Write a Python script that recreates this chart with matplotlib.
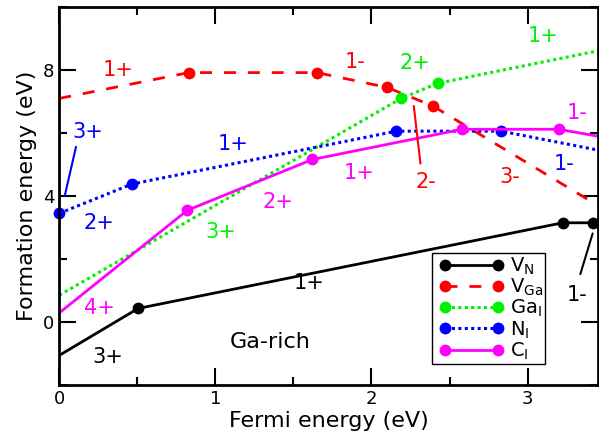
import matplotlib
matplotlib.use("Agg")
import matplotlib.pyplot as plt
from matplotlib.lines import Line2D
from matplotlib.legend_handler import HandlerLine2D
from matplotlib.ticker import MultipleLocator

# transition levels (Fermi energy, formation energy), ends at 0 and gap edge
vn_x = [0.0, 0.505, 3.225, 3.417, 3.45]
vn_y = [-1.06, 0.43, 3.15, 3.15, 3.12]
vga_x = [0.0, 0.830, 1.651, 2.099, 2.393, 3.45]
vga_y = [7.10, 7.92, 7.92, 7.45, 6.86, 3.70]
gai_x = [0.0, 2.19, 2.425, 3.45]
gai_y = [0.85, 7.10, 7.58, 8.61]
ni_x = [0.0, 0.465, 2.159, 2.83, 3.45]
ni_y = [3.45, 4.38, 6.06, 6.06, 5.46]
ci_x = [0.0, 0.821, 1.621, 2.581, 3.20, 3.45]
ci_y = [0.29, 3.55, 5.16, 6.12, 6.12, 5.90]

green = '#00f000'

fig = plt.figure(figsize=(5.99, 4.43), dpi=100)
ax = fig.add_axes([0.099, 0.131, 0.899, 0.853])

ax.plot(vn_x, vn_y, '-', color='black', lw=2, marker='o', ms=7.5,
        markevery=[1, 2, 3], label=r'$\mathregular{V_N}$')
ax.plot(vga_x, vga_y, '--', color='red', lw=2, dashes=(4.3, 4.3), marker='o', ms=7.5,
        markevery=[1, 2, 3, 4], label=r'$\mathregular{V_{Ga}}$')
ax.plot(gai_x, gai_y, ':', color=green, lw=2.2, dashes=(1, 1.1), marker='o', ms=7.5,
        markevery=[1, 2], label=r'$\mathregular{Ga_I}$')
ax.plot(ni_x, ni_y, ':', color='blue', lw=2.2, dashes=(1, 1.1), marker='o', ms=7.5,
        markevery=[0, 1, 2, 3], label=r'$\mathregular{N_I}$', clip_on=False)
ax.plot(ci_x, ci_y, '-', color='magenta', lw=2, marker='o', ms=7.5,
        markevery=[1, 2, 3, 4], label=r'$\mathregular{C_I}$')

fs = 15
# charge state labels
ax.text(0.31, -1.11, '3+', color='black', fontsize=fs, ha='center', va='center')
ax.text(1.60, 1.23, '1+', color='black', fontsize=fs, ha='center', va='center')
ax.text(3.315, 0.85, '1-', color='black', fontsize=fs, ha='center', va='center')
ax.text(0.378, 8.0, '1+', color='red', fontsize=fs, ha='center', va='center')
ax.text(1.892, 8.26, '1-', color='red', fontsize=fs, ha='center', va='center')
ax.text(2.346, 4.45, '2-', color='red', fontsize=fs, ha='center', va='center')
ax.text(2.883, 4.61, '3-', color='red', fontsize=fs, ha='center', va='center')
ax.text(1.033, 2.86, '3+', color=green, fontsize=fs, ha='center', va='center')
ax.text(2.276, 8.23, '2+', color=green, fontsize=fs, ha='center', va='center')
ax.text(3.101, 9.08, '1+', color=green, fontsize=fs, ha='center', va='center')
ax.text(0.18, 6.04, '3+', color='blue', fontsize=fs, ha='center', va='center')
ax.text(0.254, 3.15, '2+', color='blue', fontsize=fs, ha='center', va='center')
ax.text(1.113, 5.64, '1+', color='blue', fontsize=fs, ha='center', va='center')
ax.text(3.236, 5.03, '1-', color='blue', fontsize=fs, ha='center', va='center')
ax.text(0.26, 0.43, '4+', color='magenta', fontsize=fs, ha='center', va='center')
ax.text(1.399, 3.80, '2+', color='magenta', fontsize=fs, ha='center', va='center')
ax.text(1.924, 4.72, '1+', color='magenta', fontsize=fs, ha='center', va='center')
ax.text(3.32, 6.64, '1-', color='magenta', fontsize=fs, ha='center', va='center')
ax.text(1.348, -0.64, 'Ga-rich', color='black', fontsize=16, ha='center', va='center')

# leader lines
ax.annotate('', xy=(0.036, 4.03), xytext=(0.107, 5.56),
            arrowprops=dict(arrowstyle='-', color='blue', lw=1.5, shrinkA=0, shrinkB=0))
ax.annotate('', xy=(2.271, 6.86), xytext=(2.314, 5.03),
            arrowprops=dict(arrowstyle='-', color='red', lw=1.5, shrinkA=0, shrinkB=0))
ax.annotate('', xy=(3.417, 2.81), xytext=(3.338, 1.52),
            arrowprops=dict(arrowstyle='-', color='black', lw=1.5, shrinkA=0, shrinkB=0))

ax.set_xlim(0, 3.45)
ax.set_ylim(-2, 10)
ax.xaxis.set_major_locator(MultipleLocator(1))
ax.xaxis.set_minor_locator(MultipleLocator(0.5))
ax.yaxis.set_major_locator(MultipleLocator(4))
ax.yaxis.set_minor_locator(MultipleLocator(2))
ax.tick_params(which='both', direction='in', top=True, right=True, width=1.5,
               labelsize=13)
ax.tick_params(which='major', length=12)
ax.tick_params(which='minor', length=6)
for s in ax.spines.values():
    s.set_linewidth(2)

ax.set_xlabel('Fermi energy (eV)', fontsize=16, labelpad=2)
ax.set_ylabel('Formation energy (eV)', fontsize=16, labelpad=4)

leg = ax.legend(loc='lower right', bbox_to_anchor=(0.902, 0.056), fontsize=14,
                numpoints=2, handlelength=3.3, handletextpad=0.6,
                labelspacing=0, borderpad=0.1, borderaxespad=0,
                fancybox=False, framealpha=1, edgecolor='black',
                handler_map={Line2D: HandlerLine2D(marker_pad=0, xpad=0.55)})
leg.get_frame().set_linewidth(1)

fig.savefig('out.png', dpi=100)
